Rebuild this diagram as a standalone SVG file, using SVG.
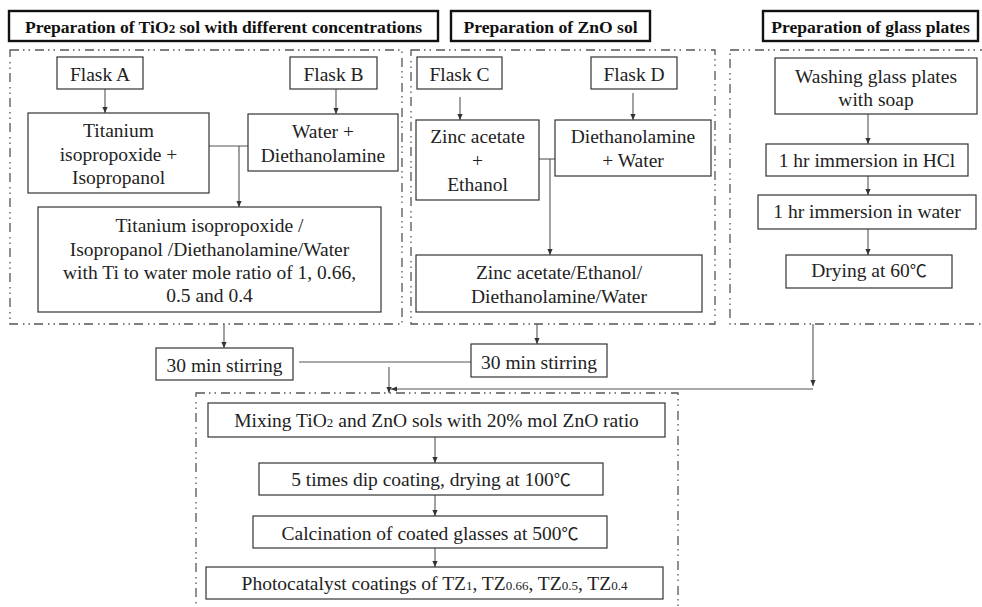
<svg xmlns="http://www.w3.org/2000/svg" width="982" height="607" viewBox="0 0 982 607">
<defs>
<marker id="ah" viewBox="0 0 6 6" markerWidth="6" markerHeight="6" refX="6" refY="3" orient="auto" markerUnits="userSpaceOnUse">
<path d="M0,0.4 L6,3 L0,5.6 z" fill="#333"/>
</marker>
<style>
.hdr rect{fill:#fff;stroke:#111;stroke-width:2.4}
.hdr text{font-family:"Liberation Serif","Times New Roman",serif;font-weight:bold;font-size:17.6px;fill:#111;text-anchor:middle}
.sec{fill:none;stroke:#555;stroke-width:1.3;stroke-dasharray:9 4 1.5 4 1.5 5}
.node rect{fill:#fff;stroke:#333;stroke-width:1.2}
.node text{font-family:"Liberation Serif","Times New Roman","Noto Sans CJK SC",serif;font-size:19.5px;fill:#222;text-anchor:middle}
.c{fill:none;stroke:#555;stroke-width:1.1}
.a{marker-end:url(#ah)}
.sub{font-size:13px}
.deg{font-family:"Noto Sans CJK SC",sans-serif;font-size:17px}
</style>
</defs>
<rect width="982" height="607" fill="#fff"/>

<g id="sections">
<rect class="sec" x="10" y="50" width="392" height="274"/>
<rect class="sec" x="411" y="50" width="304" height="274"/>
<rect class="sec" x="730" y="50" width="260" height="274"/>
<rect class="sec" x="196" y="393" width="482" height="220"/>
</g>

<g id="hdr1" class="hdr"><rect x="9" y="11" width="429" height="30"/><text x="223.5" y="33">Preparation of TiO<tspan class="sub">2</tspan> sol with different concentrations</text></g>
<g id="hdr2" class="hdr"><rect x="451" y="11" width="199" height="30"/><text x="550.5" y="33">Preparation of ZnO sol</text></g>
<g id="hdr3" class="hdr"><rect x="763" y="11" width="215" height="30"/><text x="870.5" y="33">Preparation of glass plates</text></g>

<g id="connectors">
<line class="c a" x1="105" y1="89" x2="105" y2="113"/>
<line class="c a" x1="336" y1="89" x2="336" y2="114"/>
<line class="c" x1="209" y1="146" x2="248" y2="146"/>
<line class="c a" x1="239" y1="146" x2="239" y2="207"/>
<line class="c a" x1="224" y1="324" x2="224" y2="348"/>
<line class="c a" x1="460" y1="97" x2="460" y2="120"/>
<line class="c a" x1="633" y1="93" x2="633" y2="120"/>
<line class="c" x1="539" y1="159" x2="555" y2="159"/>
<line class="c a" x1="550" y1="159" x2="550" y2="255"/>
<line class="c a" x1="537" y1="324" x2="537" y2="344"/>
<line class="c a" x1="868" y1="114" x2="868" y2="144"/>
<line class="c a" x1="868" y1="176" x2="868" y2="195"/>
<line class="c a" x1="868" y1="229" x2="868" y2="255"/>
<line class="c" x1="299" y1="362" x2="471" y2="362"/>
<line class="c a" x1="389" y1="367" x2="389" y2="393"/>
<line class="c a" x1="813" y1="324" x2="813" y2="386"/>
<line class="c a" x1="813" y1="389" x2="391" y2="389"/>
<line class="c a" x1="435" y1="437" x2="435" y2="463"/>
<line class="c a" x1="435" y1="495" x2="435" y2="516"/>
<line class="c a" x1="435" y1="548" x2="435" y2="567"/>
</g>

<g id="flaskA" class="node"><rect x="57" y="57" width="86" height="32"/><text x="100" y="81">Flask A</text></g>
<g id="flaskB" class="node"><rect x="290" y="57" width="87" height="32"/><text x="333.5" y="81">Flask B</text></g>
<g id="tiIso" class="node"><rect x="28" y="113" width="181" height="80"/><text x="118.5" y="137">Titanium</text><text x="118.5" y="160.5">isopropoxide +</text><text x="118.5" y="184">Isopropanol</text></g>
<g id="waterDea" class="node"><rect x="248" y="114" width="150" height="57"/><text x="323" y="138">Water +</text><text x="323" y="162">Diethanolamine</text></g>
<g id="tiMix" class="node"><rect x="38" y="207" width="343" height="105"/><text x="209.5" y="232">Titanium isopropoxide /</text><text x="209.5" y="255.5">Isopropanol /Diethanolamine/Water</text><text x="209.5" y="279">with Ti to water mole ratio of 1, 0.66,</text><text x="209.5" y="302">0.5 and 0.4</text></g>
<g id="stir1" class="node"><rect x="156" y="348" width="137" height="32"/><text x="224.5" y="372">30 min stirring</text></g>

<g id="flaskC" class="node"><rect x="417" y="57" width="85" height="32"/><text x="459.5" y="81">Flask C</text></g>
<g id="flaskD" class="node"><rect x="591" y="57" width="86" height="32"/><text x="634" y="81">Flask D</text></g>
<g id="zincEth" class="node"><rect x="416" y="120" width="123" height="80"/><text x="477.5" y="143">Zinc acetate</text><text x="477.5" y="167">+</text><text x="477.5" y="191">Ethanol</text></g>
<g id="deaWater" class="node"><rect x="555" y="120" width="156" height="56"/><text x="633" y="143">Diethanolamine</text><text x="633" y="167">+ Water</text></g>
<g id="znMix" class="node"><rect x="416" y="255" width="286" height="57"/><text x="559" y="279">Zinc acetate/Ethanol/</text><text x="559" y="302.5">Diethanolamine/Water</text></g>
<g id="stir2" class="node"><rect x="471" y="344" width="136" height="33"/><text x="539" y="369">30 min stirring</text></g>

<g id="wash" class="node"><rect x="775" y="58" width="202" height="56"/><text x="876" y="83">Washing glass plates</text><text x="876" y="106">with soap</text></g>
<g id="hcl" class="node"><rect x="766" y="144" width="202" height="32"/><text x="867" y="167">1 hr immersion in HCl</text></g>
<g id="water" class="node"><rect x="758" y="195" width="218" height="34"/><text x="867" y="218">1 hr immersion in water</text></g>
<g id="dry" class="node"><rect x="786" y="255" width="166" height="33"/><text x="869" y="277">Drying at 60<tspan class="deg">℃</tspan></text></g>

<g id="mixing" class="node"><rect x="208" y="403" width="457" height="34"/><text x="436.5" y="427">Mixing TiO<tspan class="sub">2</tspan> and ZnO sols with 20% mol ZnO ratio</text></g>
<g id="dip" class="node"><rect x="259" y="463" width="344" height="32"/><text x="431" y="486">5 times dip coating, drying at 100<tspan class="deg">℃</tspan></text></g>
<g id="calc" class="node"><rect x="253" y="516" width="354" height="32"/><text x="430" y="539.5">Calcination of coated glasses at 500<tspan class="deg">℃</tspan></text></g>
<g id="photo" class="node"><rect x="206" y="567" width="457" height="32"/><text x="434.5" y="590">Photocatalyst coatings of TZ<tspan class="sub">1</tspan>, TZ<tspan class="sub">0.66</tspan>, TZ<tspan class="sub">0.5</tspan>, TZ<tspan class="sub">0.4</tspan></text></g>
</svg>
